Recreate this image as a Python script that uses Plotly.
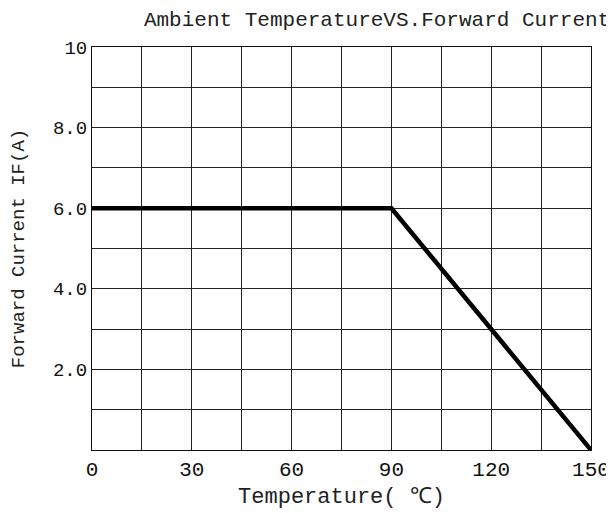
import plotly.graph_objects as go

temperature = [0, 90, 150]
forward_current = [6.0, 6.0, 0.0]

x_tickvals = [0, 15, 30, 45, 60, 75, 90, 105, 120, 135, 150]
x_ticktext = ["0", "", "30", "", "60", "", "90", "", "120", "", "150"]
y_tickvals = [0, 1, 2, 3, 4, 5, 6, 7, 8, 9, 10]
y_ticktext = ["", "", "2.0", "", "4.0", "", "6.0", "", "8.0", "", "10"]

title_text = "Ambient TemperatureVS.Forward Current"
x_title = "Temperature( ℃)"
y_title = "Forward Current IF(A)"

FONT = "Liberation Mono, DejaVu Sans Mono, monospace"

fig = go.Figure()
fig.add_trace(go.Scatter(
    x=temperature, y=forward_current, mode="lines",
    line=dict(color="black", width=4.5), showlegend=False,
))

# page body has an 8px default margin, so the figure is sized to fit inside the window
fig.update_layout(
    width=606, height=505,
    margin=dict(l=84, r=23, t=39, b=63, autoexpand=False),
    paper_bgcolor="white", plot_bgcolor="white",
    font=dict(family=FONT, color="#111111", size=18),
    title=dict(text=title_text, x=0.609, xanchor="center", y=0.979, yanchor="middle",
               font=dict(family=FONT, size=21, color="#222222")),
)
fig.update_xaxes(
    range=[0, 150], tickvals=x_tickvals, ticktext=x_ticktext,
    showgrid=True, gridcolor="#222222", gridwidth=1,
    showline=True, linecolor="#111111", linewidth=1, mirror=True,
    ticks="", zeroline=False, automargin=False,
    tickfont=dict(family=FONT, size=21, color="#111111"),
    title=dict(text=x_title, font=dict(family=FONT, size=22, color="#222222"), standoff=6),
)
fig.update_yaxes(
    range=[0, 10], tickvals=y_tickvals, ticktext=y_ticktext,
    showgrid=True, gridcolor="#222222", gridwidth=1,
    showline=True, linecolor="#111111", linewidth=1, mirror=True,
    ticks="", zeroline=False, automargin=False,
    tickfont=dict(family=FONT, size=19, color="#111111"),
    title=dict(text=y_title, font=dict(family=FONT, size=19, color="#222222"), standoff=24),
)

fig.write_html("out.html")
